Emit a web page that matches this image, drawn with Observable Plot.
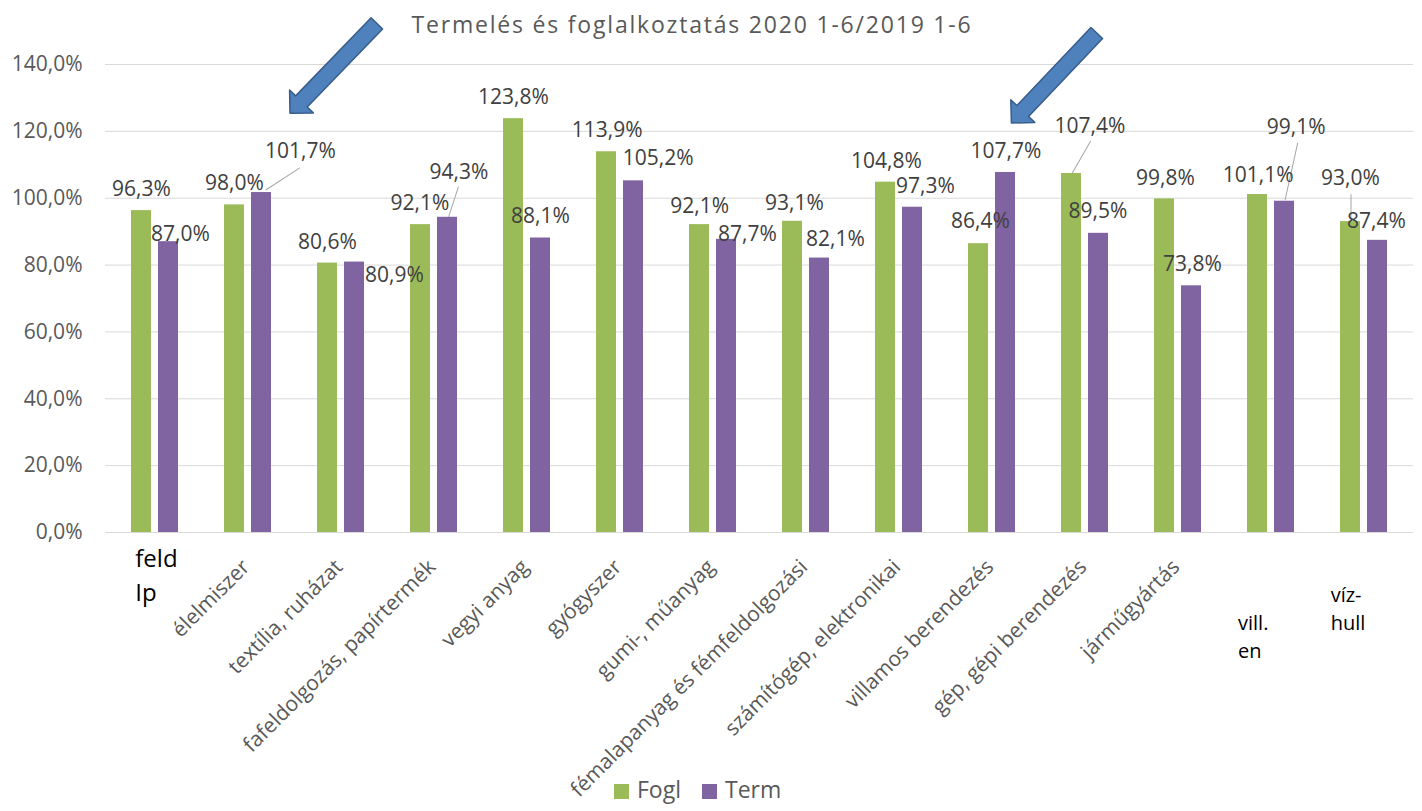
<!DOCTYPE html>
<html>
<head>
<meta charset="utf-8">
<script src="https://cdn.jsdelivr.net/npm/d3@7"></script>
<script src="https://cdn.jsdelivr.net/npm/@observablehq/plot@0.6"></script>
<style>
  body { margin: 0; background: #fff; }
  #wrap { position: relative; width: 1422px; height: 811px; overflow: hidden; font-family: "Open Sans", sans-serif; background: #fff; }
  #chart { position: absolute; left: 0; top: 0; }
  #title { position: absolute; top: 13px; left: 0; width: 1384px; text-align: center; font-size: 23px; line-height: 1; letter-spacing: 1.8px; color: #595959; white-space: nowrap; }
  .lg-sw { position: absolute; width: 15px; height: 15px; top: 784px; }
  .lg-tx { position: absolute; top: 778px; font-size: 23px; line-height: 1; color: #595959; }
</style>
</head>
<body>
<div id="wrap">
  <div id="chart"></div>
  <div id="title"></div>
  <div id="legend"></div>
</div>
<script>
// ---- data ----
const titleText = "Termelés és foglalkoztatás 2020 1-6/2019 1-6";
const categories = ["feld Ip", "élelmiszer", "textília, ruházat", "fafeldolgozás, papírtermék", "vegyi anyag", "gyógyszer", "gumi-, műanyag", "fémalapanyag és fémfeldolgozási", "számítógép, elektronikai", "villamos berendezés", "gép, gépi berendezés", "járműgyártás", "vill. en", "víz-hull"];
const tickLabels = ["", "élelmiszer", "textília, ruházat", "fafeldolgozás, papírtermék", "vegyi anyag", "gyógyszer", "gumi-, műanyag", "fémalapanyag és fémfeldolgozási", "számítógép, elektronikai", "villamos berendezés", "gép, gépi berendezés", "járműgyártás", "", ""];
const boxLabels = ["feld\nIp", "", "", "", "", "", "", "", "", "", "", "", "vill.\nen", "víz-\nhull"];
const fogl = [96.3, 98.0, 80.6, 92.1, 123.8, 113.9, 92.1, 93.1, 104.8, 86.4, 107.4, 99.8, 101.1, 93.0];
const term = [87.0, 101.7, 80.9, 94.3, 88.1, 105.2, 87.7, 82.1, 97.3, 107.7, 89.5, 73.8, 99.1, 87.4];
const seriesNames = ["Fogl", "Term"];
const yTicks = [0, 20, 40, 60, 80, 100, 120, 140];
const highlighted = ["élelmiszer", "villamos berendezés"];
const highlightTip = [125.4, 122.5];

// ---- presentation ----
const seriesColors = ["#9BBB59", "#8064A2"];
// label nudges [dx, dy] in px relative to the top centre of each bar (manual Excel placement)
const foglNudge = [[0,-21],[0,-22],[0,-21],[-0.5,-21],[0,-21],[0.6,-21],[0.2,-18],[2,-18],[1,-21],[2,-22],[18.5,-47],[1,-21],[0.6,-19],[0,-43]];
const termNudge = [[12,-7],[39,-41],[40,13],[11.5,-45],[0,-21.6],[24.6,-23],[21,-5.5],[16,-19],[13,-21],[0.4,-21],[-0.5,-22],[1,-22],[11.6,-74],[-1,-19]];
const leaders = [
  {s: 1, i: 1, sx: 4.7, sy: -2.8, rot: 57, len: 40},
  {s: 1, i: 3, sx: 1.2, sy: -0.7, rot: 18, len: 31},
  {s: 0, i: 10, sx: 0.8, sy: -0.5, rot: 30, len: 36.5},
  {s: 0, i: 13, sx: 0.5, sy: 0, rot: 0, len: 27},
  {s: 1, i: 12, sx: 0.6, sy: -1.4, rot: 12.5, len: 58}
];
const arrowStyle = [{dx: 42, rot: 224, len: 125}, {dx: 19.4, rot: 223.5, len: 124}];

const fmt = v => v.toFixed(1).replace(".", ",") + "%";
const seriesVals = [fogl, term];
const seriesOff = [-13.5, 13.5];
const seriesInset = [[23, 50], [50, 23]];
const nudges = [foglNudge, termNudge];

const lineShape = { draw(ctx, l) { ctx.moveTo(0, 0); ctx.lineTo(0, -l); } };
const blockArrow = {
  draw(ctx, l) {
    const sw = 8, hw = 16.5, hl = 16.5;
    ctx.moveTo(-sw, 0);
    ctx.lineTo(-sw, -l + hl);
    ctx.lineTo(-hw, -l + hl);
    ctx.lineTo(0, -l);
    ctx.lineTo(hw, -l + hl);
    ctx.lineTo(sw, -l + hl);
    ctx.lineTo(sw, 0);
    ctx.closePath();
  }
};

const marks = [];
marks.push(Plot.gridY(yTicks, {stroke: "#d9d9d9", strokeOpacity: 1, strokeWidth: 1}));
marks.push(Plot.axisY(yTicks, {tickSize: 0, tickPadding: 23, tickFormat: fmt, fontSize: 21, color: "#595959", label: null}));

seriesNames.forEach((name, s) => {
  const vals = seriesVals[s];
  marks.push(Plot.barY(categories, {
    x: d => d, y: (d, i) => vals[i], fill: seriesColors[s],
    insetLeft: seriesInset[s][0], insetRight: seriesInset[s][1]
  }));
});

leaders.forEach(L => {
  marks.push(Plot.vector([{cat: categories[L.i], v: seriesVals[L.s][L.i]}], {
    x: "cat", y: "v", dx: seriesOff[L.s] + L.sx, dy: L.sy,
    rotate: L.rot, length: L.len, anchor: "start", shape: lineShape,
    stroke: "#a6a6a6", strokeWidth: 1, fill: "none"
  }));
});

seriesNames.forEach((name, s) => {
  const vals = seriesVals[s];
  categories.forEach((cat, i) => {
    const [ndx, ndy] = nudges[s][i];
    marks.push(Plot.text([{cat, v: vals[i]}], {
      x: "cat", y: "v", text: d => fmt(d.v),
      dx: seriesOff[s] + ndx, dy: ndy,
      fontSize: 21, fill: "#404040"
    }));
  });
});

// rotated category labels
marks.push(Plot.text(categories.map((cat, i) => ({cat, label: tickLabels[i]})).filter(d => d.label), {
  x: "cat", text: "label", frameAnchor: "bottom", rotate: -45, textAnchor: "end", lineAnchor: "middle",
  dx: -2, dy: 31, fontSize: 21, fill: "#595959"
}));

// horizontal (text box) category labels
const boxStyle = {0: {dx: -19.7, dy: 10, fs: 24, lh: 1.42}, 12: {dx: -33, dy: 78, fs: 20, lh: 1.4}, 13: {dx: -33.3, dy: 50, fs: 20, lh: 1.4}};
categories.forEach((cat, i) => {
  if (!boxLabels[i]) return;
  const st = boxStyle[i];
  marks.push(Plot.text([{cat, label: boxLabels[i]}], {
    x: "cat", text: "label", frameAnchor: "bottom", textAnchor: "start", lineAnchor: "top",
    dx: st.dx, dy: st.dy, fontSize: st.fs, lineHeight: st.lh, fill: "#000"
  }));
});

// highlight arrows
highlighted.forEach((cat, k) => {
  marks.push(Plot.vector([{cat, v: highlightTip[k]}], {
    x: "cat", y: "v", dx: arrowStyle[k].dx, rotate: arrowStyle[k].rot, length: arrowStyle[k].len,
    anchor: "end", shape: blockArrow, fill: "#4F81BD", stroke: "#385D8A", strokeWidth: 1.5
  }));
});

const chart = Plot.plot({
  width: 1422, height: 811,
  marginTop: 64, marginBottom: 279, marginLeft: 105, marginRight: 9,
  x: {domain: categories, padding: 0, axis: null},
  y: {domain: [0, 140], axis: null},
  style: {fontFamily: "'Open Sans', sans-serif", background: "#fff", overflow: "visible"},
  marks
});
document.getElementById("chart").appendChild(chart);

document.getElementById("title").textContent = titleText;

const legend = document.getElementById("legend");
const swX = [614, 702], txX = [637, 725];
seriesNames.forEach((name, s) => {
  const sw = document.createElement("div");
  sw.className = "lg-sw"; sw.style.left = swX[s] + "px"; sw.style.background = seriesColors[s];
  const tx = document.createElement("div");
  tx.className = "lg-tx"; tx.style.left = txX[s] + "px"; tx.textContent = name;
  legend.appendChild(sw); legend.appendChild(tx);
});
</script>
</body>
</html>
